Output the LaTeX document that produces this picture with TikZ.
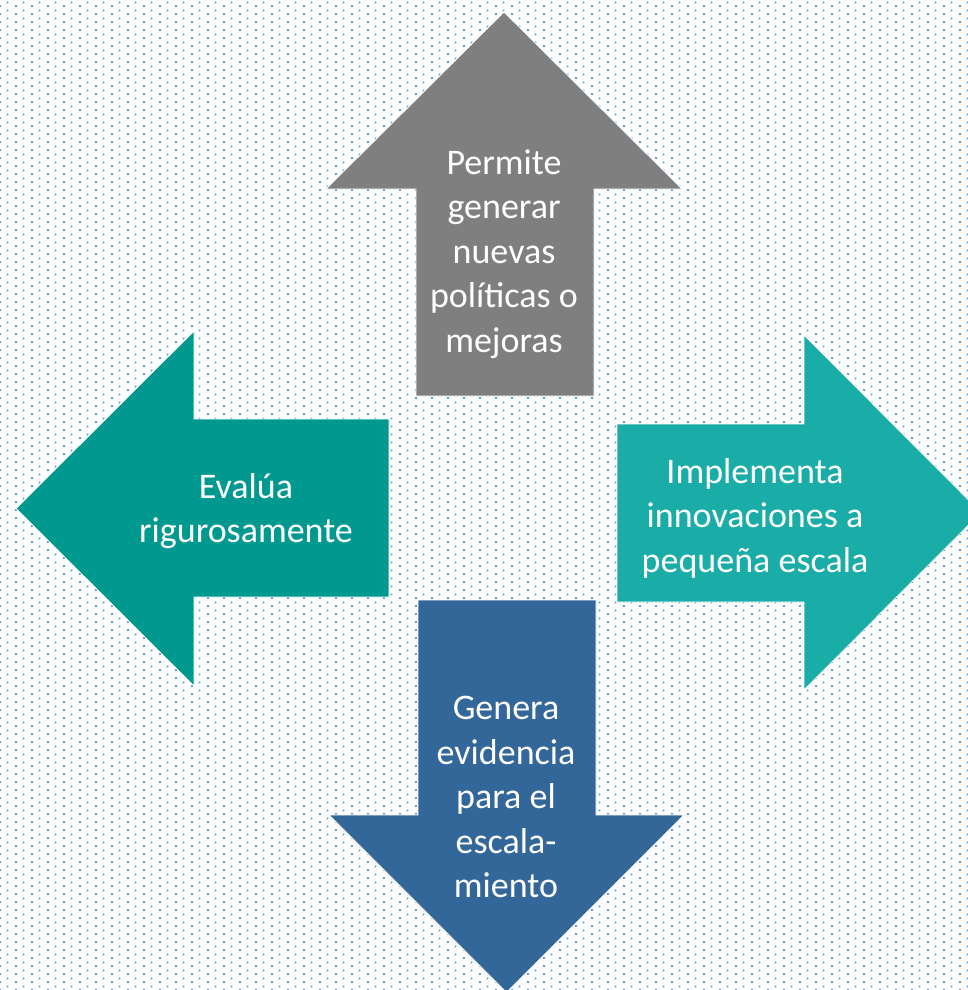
\documentclass[tikz,border=0pt]{standalone}
\usepackage{fontspec}
\setmainfont{Carlito}
\usepackage{xcolor}
\usepackage{tikz}
\usetikzlibrary{patterns}

\definecolor{dotblue}{RGB}{91,155,213}
\definecolor{upgray}{RGB}{127,127,127}
\definecolor{leftteal}{RGB}{0,153,143}
\definecolor{rightteal}{RGB}{26,172,166}
\definecolor{downblue}{RGB}{51,102,153}

\pgfdeclarepatternformonly{bgdots}{\pgfpointorigin}{\pgfpoint{16pt}{8pt}}{\pgfpoint{16pt}{8pt}}{
	\pgfpathrectangle{\pgfpoint{0pt}{0pt}}{\pgfpoint{2pt}{2pt}}
	\pgfpathrectangle{\pgfpoint{8pt}{4pt}}{\pgfpoint{2pt}{2pt}}
	\pgfusepath{fill}
}

\tikzset{
	blockarrow/.style={draw=white, line width=0.8pt},
	arrowtext/.style={text=white, align=center, inner sep=0pt, font=\fontsize{36}{44.5}\selectfont}
}

\begin{document}
\begin{tikzpicture}[x=1pt, y=-1pt]

		\useasboundingbox (0, 0) rectangle (968, 990);
		\clip (0, 0) rectangle (968, 990);
		\fill[white] (0, 0) rectangle (968, 990);
		\fill[pattern=bgdots, pattern color=dotblue] (0, 0) rectangle (968, 990);

		% arrows
		\fill[blockarrow, fill=upgray] (504, 12) -- (682, 189) -- (594, 189) -- (594, 396)
			-- (416, 396) -- (416, 189) -- (326, 189) -- cycle;
		\fill[blockarrow, fill=leftteal] (16, 508.5) -- (194, 331) -- (194, 419) -- (389, 419)
			-- (389, 597) -- (194, 597) -- (194, 686) -- cycle;
		\fill[blockarrow, fill=rightteal] (617, 424) -- (804, 424) -- (804, 335) -- (981, 512.5)
			-- (804, 690) -- (804, 602) -- (617, 602) -- cycle;
		\fill[blockarrow, fill=downblue] (418, 600) -- (596, 600) -- (596, 815) -- (684, 815)
			-- (506.5, 992.5) -- (329, 815) -- (418, 815) -- cycle;

		\node[arrowtext] (permite) at (504, 254) {Permite\\generar\\nuevas\\políticas o\\mejoras};
		\node[arrowtext] (evalua) at (246, 511) {Evalúa\\rigurosamente};
		\node[arrowtext] (implementa) at (755, 518) {Implementa\\innovaciones a\\pequeña escala};
		\node[arrowtext] (genera) at (506, 797) {Genera\\evidencia\\para el\\escala-\\miento};

	\end{tikzpicture}
\end{document}
